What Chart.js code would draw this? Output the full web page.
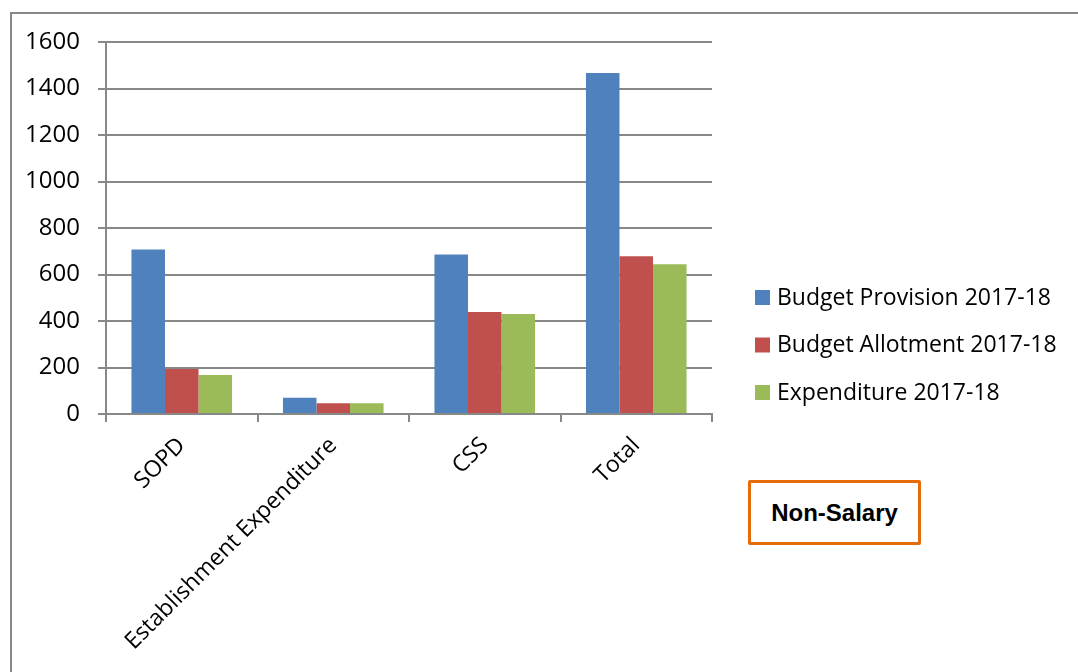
<!DOCTYPE html>
<html>
<head>
<meta charset="utf-8">
<script src="https://cdn.jsdelivr.net/npm/chart.js@4"></script>
<style>
  html, body { margin: 0; padding: 0; background: #fff; }
  #wrap { position: relative; width: 1078px; height: 672px; overflow: hidden; }
  #frame { position: absolute; left: 10px; top: 12px; right: -5px; bottom: -5px;
           border-top: 2px solid #888; border-left: 2px solid #888; }
  #chart { position: absolute; left: 0; top: 0; }
  #tag { position: absolute; left: 748px; top: 480px; width: 167px; height: 59px;
         border: 3px solid #E46C0A; border-radius: 2px; background: #fff;
         font: bold 24px "Liberation Sans", Arial, sans-serif; color: #000;
         display: flex; align-items: center; justify-content: center; }
</style>
</head>
<body>
<div id="wrap">
  <div id="frame"></div>
  <canvas id="chart" width="1078" height="672"></canvas>
  <div id="tag">Non-Salary</div>
</div>
<script>
// dados
const categorias = ['SOPD', 'Establishment Expenditure', 'CSS', 'Total'];
const provisao = [708, 70, 686, 1467];
const alocacao = [194, 46, 439, 678];
const despesa = [168, 46, 430, 644];
const yTicks = [0, 200, 400, 600, 800, 1000, 1200, 1400, 1600];

const cores = ['#4F81BD', '#C0504D', '#9BBB59'];
const fonte = '"Open Sans", "Noto Sans", sans-serif';

// legenda desenhada à mão, posicionada como no original
const legendaPlugin = {
  id: 'legendaFixa',
  afterDraw(chart) {
    const ctx = chart.ctx;
    ctx.save();
    ctx.font = '23px ' + fonte;
    ctx.textBaseline = 'middle';
    ctx.textAlign = 'left';
    chart.data.datasets.forEach((ds, i) => {
      const y = 297 + i * 47.5;
      ctx.fillStyle = ds.backgroundColor;
      ctx.fillRect(755, y - 7, 15, 15);
      ctx.fillStyle = '#000';
      ctx.fillText(ds.label, 777, y + 1);
    });
    ctx.restore();
  }
};

new Chart(document.getElementById('chart'), {
  type: 'bar',
  data: {
    labels: categorias,
    datasets: [
      { label: 'Budget Provision 2017-18', data: provisao, backgroundColor: cores[0] },
      { label: 'Budget Allotment 2017-18', data: alocacao, backgroundColor: cores[1] },
      { label: 'Expenditure 2017-18', data: despesa, backgroundColor: cores[2] }
    ]
  },
  options: {
    responsive: false,
    animation: false,
    layout: { padding: { left: 0, top: 42, right: 366, bottom: 0 } },
    datasets: { bar: { categoryPercentage: 0.664, barPercentage: 1.0 } },
    plugins: {
      legend: { display: false },
      tooltip: { enabled: false }
    },
    scales: {
      x: {
        afterFit(scale) { scale.height = 258; },
        grid: { drawOnChartArea: false, offset: true, color: '#888', lineWidth: 2, tickLength: 8 },
        border: { color: '#888', width: 2 },
        ticks: {
          color: '#000',
          font: { family: fonte, size: 23 },
          minRotation: 45, maxRotation: 45,
          padding: 10
        }
      },
      y: {
        min: 0, max: 1600,
        afterFit(scale) { scale.width = 106; },
        afterBuildTicks(scale) { scale.ticks = yTicks.map(v => ({ value: v })); },
        grid: { color: '#888', lineWidth: 2, tickLength: 8 },
        border: { color: '#888', width: 2 },
        ticks: {
          color: '#000',
          font: { family: fonte, size: 24 },
          padding: 18,
          callback: v => String(v)
        }
      }
    }
  },
  plugins: [legendaPlugin]
});
</script>
</body>
</html>
